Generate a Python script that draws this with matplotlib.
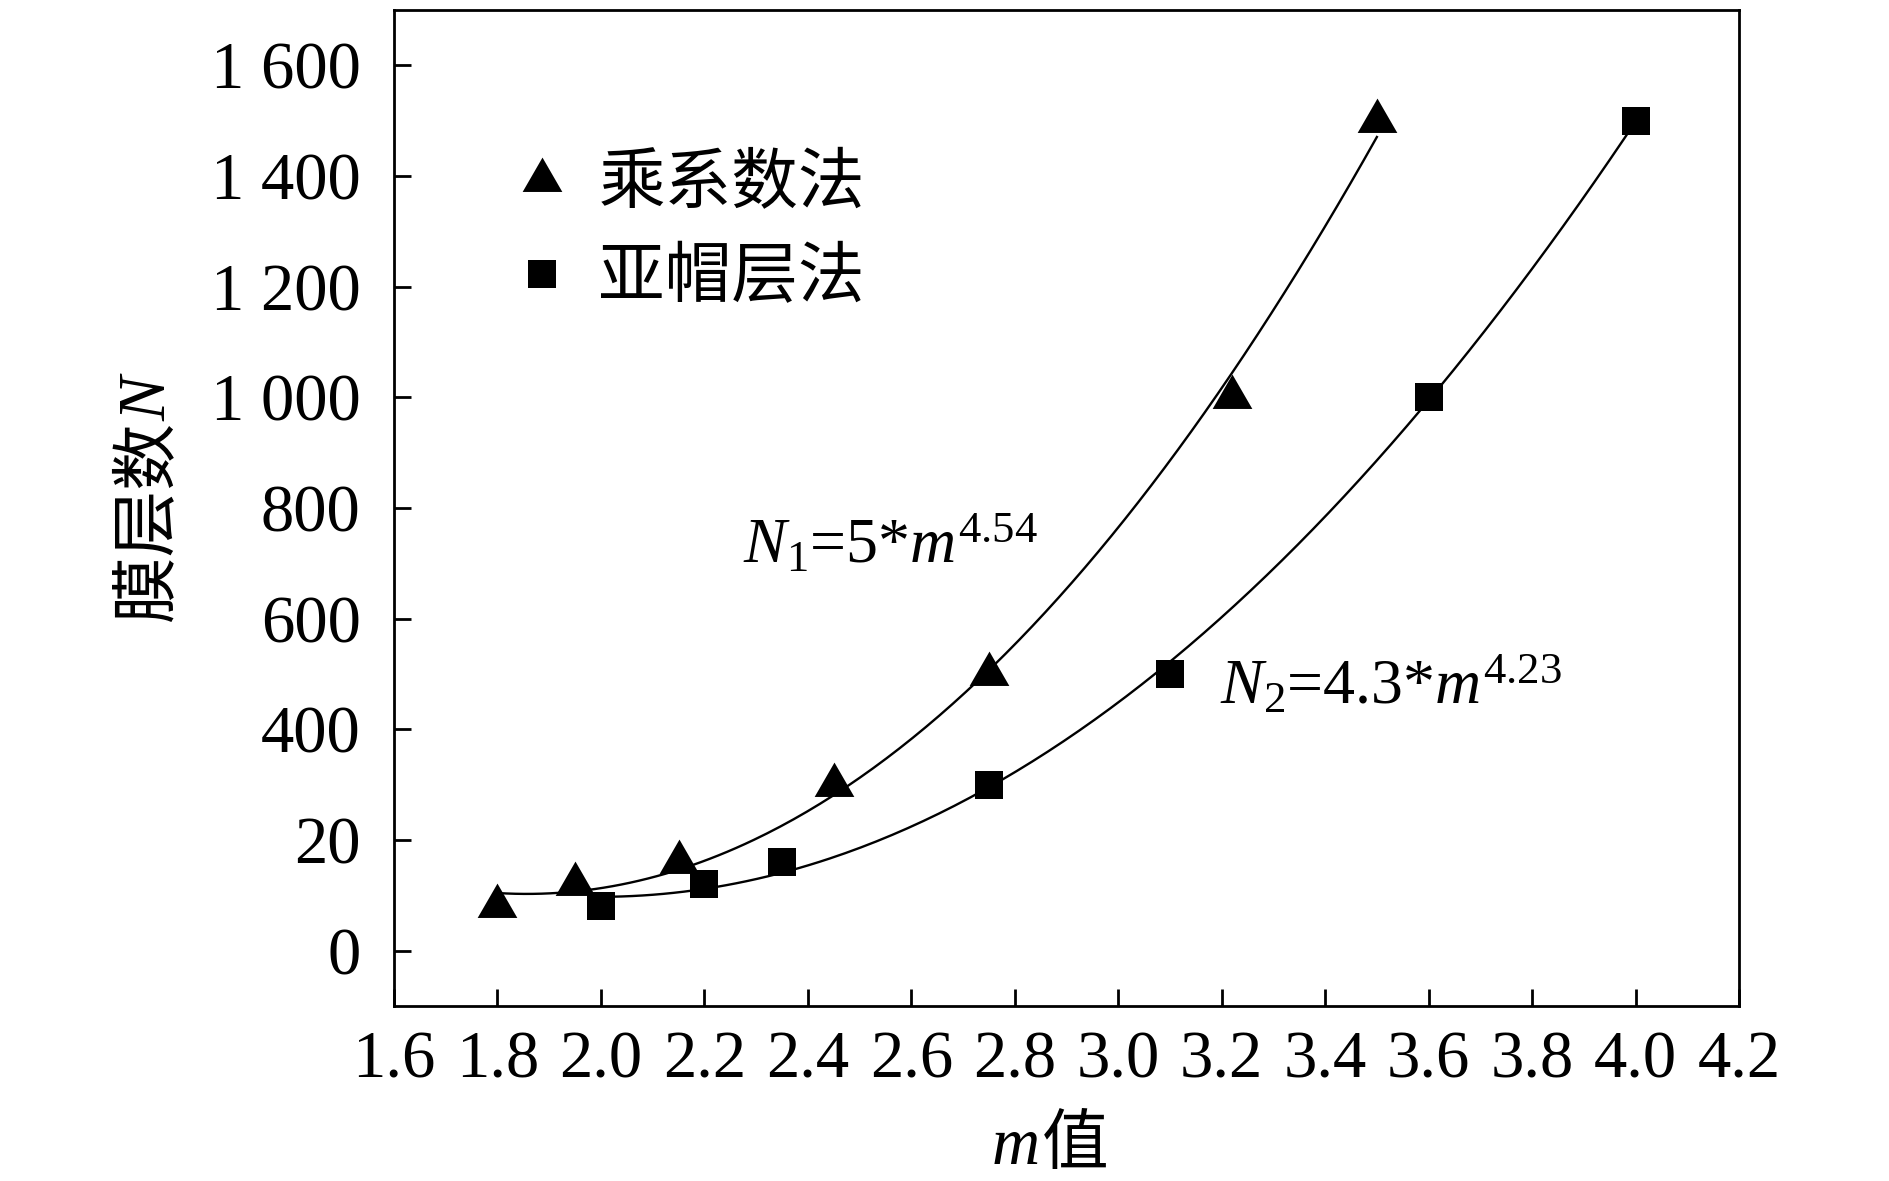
import matplotlib
matplotlib.use('Agg')
import matplotlib.pyplot as plt
import numpy as np

# 乘系数法 data
m_tri = [1.8, 1.95, 2.15, 2.45, 2.75, 3.22, 3.5]
n_tri = [80, 120, 160, 300, 500, 1000, 1500]
# 亚帽层法 data
m_sq = [2.0, 2.2, 2.35, 2.75, 3.1, 3.6, 4.0]
n_sq = [80, 120, 160, 300, 500, 1000, 1500]

xticks = [1.6, 1.8, 2.0, 2.2, 2.4, 2.6, 2.8, 3.0, 3.2, 3.4, 3.6, 3.8, 4.0, 4.2]
yticks = [0, 200, 400, 600, 800, 1000, 1200, 1400, 1600]
ylabels = ['0', '20', '400', '600', '800', '1 000', '1 200', '1 400', '1 600']

plt.rcParams['font.family'] = ['Liberation Serif', 'Noto Sans CJK SC']
plt.rcParams['mathtext.fontset'] = 'custom'
plt.rcParams['mathtext.rm'] = 'Liberation Serif'
plt.rcParams['mathtext.it'] = 'Liberation Serif:italic'
fs = 48

fig = plt.figure(figsize=(18.9, 11.81), dpi=100)
ax = fig.add_axes([394/1890, 1-1006/1181, (1739-394)/1890, (1006-10)/1181])

tri = [(0, 1), (-0.866, -0.5), (0.866, -0.5)]

# fitted curves
for mx, ny in [(m_tri, n_tri), (m_sq, n_sq)]:
    c = np.polyfit(mx, ny, 2)
    xx = np.linspace(min(mx), max(mx), 200)
    ax.plot(xx, np.polyval(c, xx), color='black', lw=1.7)

ax.plot(m_tri, n_tri, ls='none', marker=tri, ms=33, mew=0, color='black', label='乘系数法')
ax.plot(m_sq, n_sq, ls='none', marker='s', ms=20, mew=0, color='black', label='亚帽层法')

ax.set_xlim(1.6, 4.2)
ax.set_ylim(-100, 1700)
ax.set_xticks(xticks)
ax.set_xticklabels(['%.1f' % v for v in xticks])
ax.set_yticks(yticks)
ax.set_yticklabels(ylabels)
ax.tick_params(direction='in', length=12, width=2, labelsize=fs)
ax.tick_params(axis='y', pad=24)
ax.tick_params(axis='x', pad=18)
for s in ax.spines.values():
    s.set_linewidth(2)

# axis titles: latin part italic serif, chinese part CJK
fig.text(0.550, 0.0144, 'm', fontsize=fs, style='italic', ha='right', va='baseline')
fig.text(0.551, 0.0144, '值', fontsize=fs, ha='left', va='baseline')
fig.text(0.0788, 0.6435, '膜层数', fontsize=fs, rotation=90, ha='center', va='top')
fig.text(0.0788, 0.6435, 'N', fontsize=fs, style='italic', rotation=90, ha='center', va='bottom')

ax.text(2.275, 700, r'$N_1$=5*$m^{4.54}$', fontsize=46, ha='left', va='baseline')
ax.text(3.196, 446, r'$N_2$=4.3*$m^{4.23}$', fontsize=46, ha='left', va='baseline')

ax.legend(loc='upper left', bbox_to_anchor=(0.09, 0.854), frameon=False, fontsize=fs,
          handlelength=0.8, handletextpad=0.45, labelspacing=0.47, borderpad=0, borderaxespad=0)

fig.savefig('out.png', dpi=100)
